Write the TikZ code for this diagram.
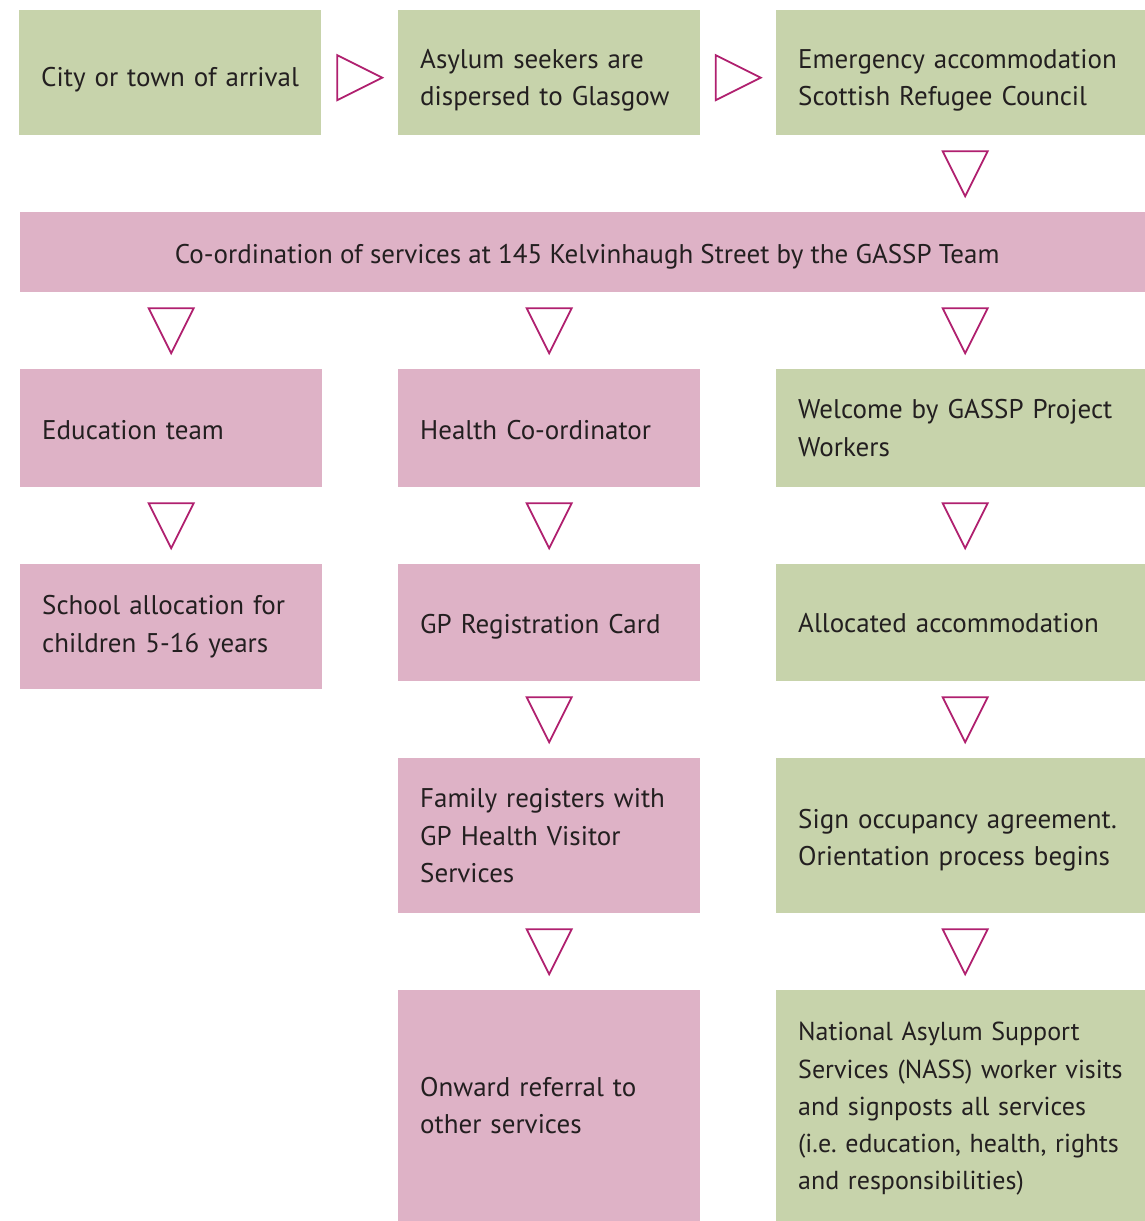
\documentclass[tikz,border=0pt]{standalone}
\usepackage{fontspec}
\setmainfont{PT Sans}
\usetikzlibrary{calc,positioning}
\definecolor{FlowGreen}{HTML}{C7D3AB}
\definecolor{FlowPink}{HTML}{DEB2C6}
\definecolor{FlowMagenta}{HTML}{B0206F}
\definecolor{FlowText}{HTML}{231F20}

\tikzset{
  flowbox/.style={anchor=north west,inner xsep=22pt,inner ysep=0pt,align=left,
    text=FlowText,font=\fontsize{27}{37.5}\selectfont},
  narrowbox/.style={flowbox,minimum width=302pt,text width=258pt},
  widebox/.style={flowbox,minimum width=378pt,text width=334pt},
  greenbox/.style={fill=FlowGreen},
  pinkbox/.style={fill=FlowPink},
  % a taller first line pushes the text a little lower in its box
  lowertext/.style={execute at begin node={\rule{0pt}{#1}}},
  downtri/.pic={\draw[FlowMagenta,line width=1.8pt,line join=miter]
    (-22.5,22.5) -- (22.5,22.5) -- (0,-22.5) -- cycle;},
  righttri/.pic={\draw[FlowMagenta,line width=1.8pt,line join=miter]
    (-22.5,22.5) -- (22.5,0) -- (-22.5,-22.5) -- cycle;}
}

\begin{document}
\hyphenpenalty=10000
\frenchspacing
\begin{tikzpicture}[x=1pt,y=1pt]
  \useasboundingbox[fill=white] (0,0) rectangle (1145,-1221);

  % top row
  \node[narrowbox,greenbox,minimum height=125pt,lowertext=34pt] (arrival) at (19,-10)
    {City or town of arrival};
  \node[narrowbox,greenbox,minimum height=125pt,lowertext=34pt] (dispersed) at (398,-10)
    {Asylum seekers are\\dispersed to Glasgow};
  \node[widebox,greenbox,minimum height=125pt,lowertext=34pt] (emergency) at (776,-10)
    {Emergency accommodation\\Scottish Refugee Council};

  % GASSP team
  \node[flowbox,pinkbox,align=center,minimum width=1134pt,minimum height=80pt,
    text height=30pt,text depth=7pt] (gassp) at (20,-212)
    {Co-ordination of services at 145 Kelvinhaugh Street by the GASSP Team};

  % education column
  \node[narrowbox,pinkbox,minimum height=118pt,lowertext=23.5pt] (education) at (20,-369)
    {Education team};
  \node[narrowbox,pinkbox,minimum height=125pt] (school) at (20,-564)
    {School allocation for\\children 5-16 years};

  % health column
  \node[narrowbox,pinkbox,minimum height=118pt,lowertext=23.5pt] (health) at (398,-369)
    {Health Co-ordinator};
  \node[narrowbox,pinkbox,minimum height=117pt,lowertext=27.5pt] (gpcard) at (398,-564)
    {GP Registration Card};
  \node[narrowbox,pinkbox,minimum height=155pt] (family) at (398,-758)
    {Family registers with\\GP Health Visitor\\Services};
  \node[narrowbox,pinkbox,minimum height=231pt] (onward) at (398,-990)
    {Onward referral to\\other services};

  % housing column
  \node[widebox,greenbox,minimum height=118pt] (welcome) at (776,-369)
    {Welcome by GASSP Project\\Workers};
  \node[widebox,greenbox,minimum height=117pt] (allocated) at (776,-564)
    {Allocated accommodation};
  \node[widebox,greenbox,minimum height=155pt,lowertext=28.5pt] (occupancy) at (776,-758)
    {Sign occupancy agreement.\\Orientation process begins};
  \node[widebox,greenbox,minimum height=231pt,lowertext=25pt,
    font=\fontsize{26}{37.3}\selectfont] (nass) at (776,-990)
    {National Asylum Support\\Services (NASS) worker visits\\and signposts all services\\(i.e. education, health, rights\\and responsibilities)};

  % arrows between the boxes
  \pic at ($(arrival.east)!0.5!(dispersed.west)+(0,-5)$) {righttri};
  \pic at ($(dispersed.east)!0.5!(emergency.west)+(0,-5)$) {righttri};
  \pic at ($(emergency.south)!0.5!(emergency.south|-gassp.north)$) {downtri};
  \foreach \col in {education,health,welcome}
    \pic at ($(\col.north)!0.5!(\col.north|-gassp.south)$) {downtri};
  \foreach \upper/\lower in {education/school,health/gpcard,gpcard/family,
      family/onward,welcome/allocated,allocated/occupancy,occupancy/nass}
    \pic at ($(\upper.south)!0.5!(\lower.north)$) {downtri};
\end{tikzpicture}
\end{document}
